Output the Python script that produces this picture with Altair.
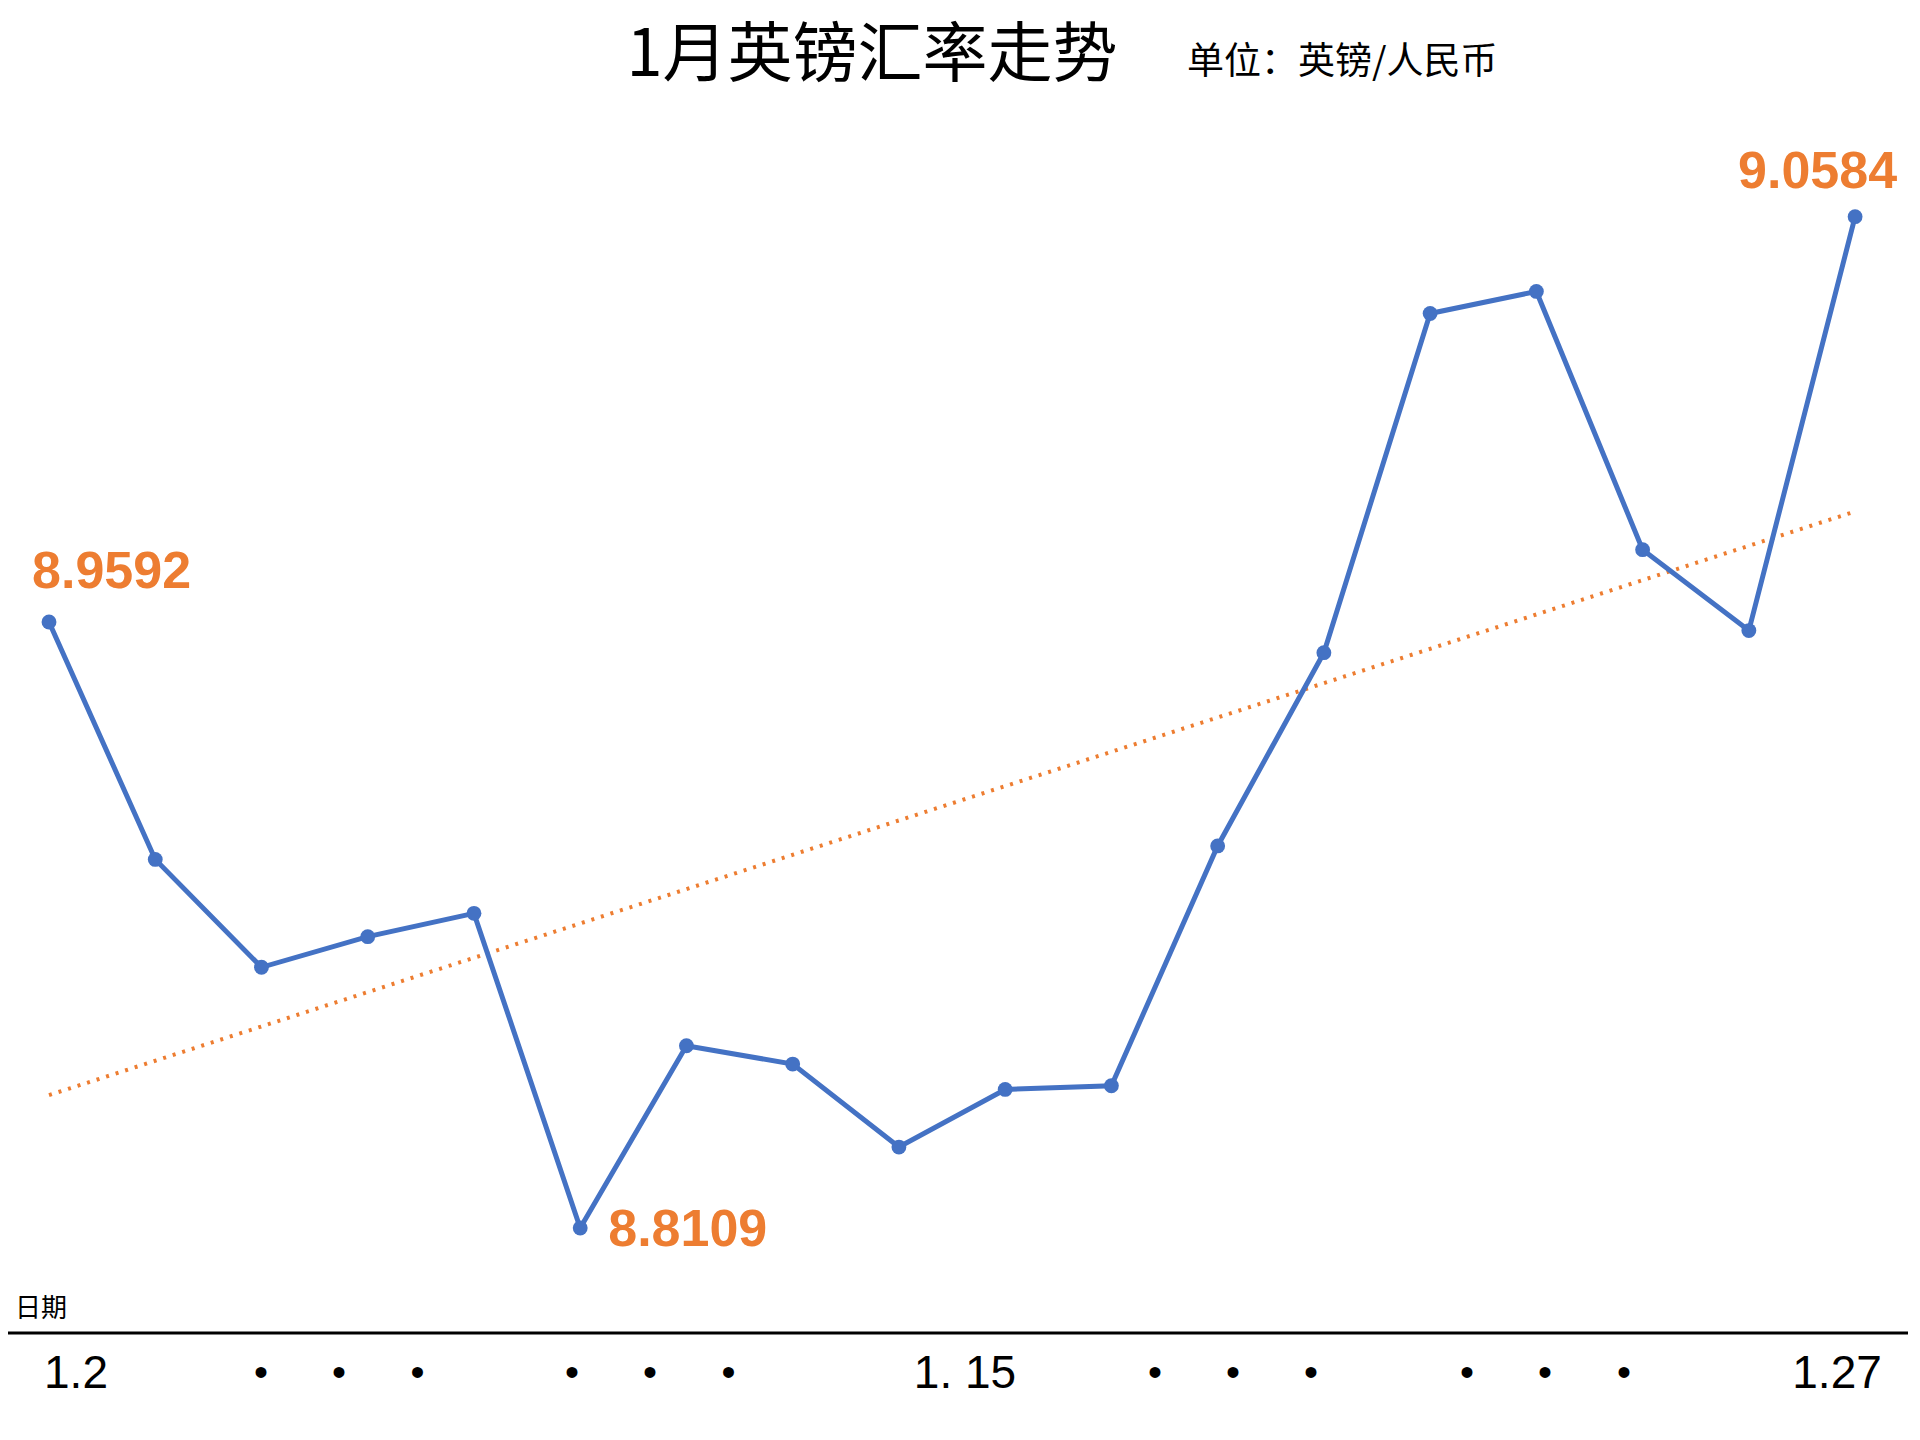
import altair as alt
import pandas as pd

# ---- data ----
rates = [8.9592, 8.9011, 8.8747, 8.8822, 8.8879, 8.8109, 8.8555, 8.8510, 8.8307,
         8.8448, 8.8457, 8.9044, 8.9517, 9.0347, 9.0401, 8.9769, 8.9571, 9.0584]
day_index = list(range(len(rates)))

tick_labels = ["1.2", "•", "•", "•", "•", "•", "•", "1. 15",
               "•", "•", "•", "•", "•", "•", "1.27"]
tick_slots = [0.254, 1.995, 2.730, 3.468, 4.923, 5.657, 6.396, 8.622,
              10.410, 11.145, 11.879, 13.347, 14.081, 14.825, 16.830]

title_text = "1月英镑汇率走势"
unit_text = "单位：英镑/人民币"
x_axis_name = "日期"

first_idx, min_idx, last_idx = 0, 5, 17

BLUE = "#4472C4"
ORANGE = "#ED7D31"
W, H = 1900, 1400
CJK = "Noto Sans CJK SC"
LAT = "Liberation Sans"

df = pd.DataFrame({"idx": day_index, "rate": rates})
ticks = pd.DataFrame({"slot": tick_slots, "label": tick_labels})
one = pd.DataFrame({"a": [0]})

X = alt.X("idx:Q", scale=alt.Scale(domain=[-0.386, 17.498], nice=False, zero=False), axis=None)
Y = alt.Y("rate:Q", scale=alt.Scale(domain=[8.76684, 9.10947], nice=False, zero=False), axis=None)

base = alt.Chart(df)

trend = base.transform_regression("idx", "rate").mark_line(
    color=ORANGE, strokeDash=[3, 7], strokeWidth=4
).encode(x=X, y=Y)

line = base.mark_line(color=BLUE, strokeWidth=5).encode(x=X, y=Y)
pts = base.mark_circle(size=220, color=BLUE, opacity=1).encode(x=X, y=Y)

ann_style = dict(font=LAT, fontWeight="bold", fontSize=52, color=ORANGE, baseline="middle")
ann_first = base.transform_filter(alt.datum.idx == first_idx).mark_text(
    align="left", dx=-17, dy=-50, **ann_style
).encode(x=X, y=Y, text=alt.Text("rate:Q", format=".4f"))
ann_min = base.transform_filter(alt.datum.idx == min_idx).mark_text(
    align="left", dx=28, dy=2, **ann_style
).encode(x=X, y=Y, text=alt.Text("rate:Q", format=".4f"))
ann_last = base.transform_filter(alt.datum.idx == last_idx).mark_text(
    align="right", dx=42, dy=-45, **ann_style
).encode(x=X, y=Y, text=alt.Text("rate:Q", format=".4f"))

axis_line = alt.Chart(one).mark_rule(color="black", strokeWidth=3).encode(
    x=alt.value(0), x2=alt.value(W), y=alt.value(1325)
)

XT = alt.X("slot:Q", scale=alt.Scale(domain=[-0.386, 17.498], nice=False, zero=False), axis=None)
tick_nums = alt.Chart(ticks).transform_filter(alt.datum.label != "•").mark_text(
    font=LAT, fontSize=46, color="black", align="center", baseline="middle"
).encode(x=XT, y=alt.value(1366), text="label:N")
tick_dots = alt.Chart(ticks).transform_filter(alt.datum.label == "•").mark_text(
    font=LAT, fontSize=40, color="black", align="center", baseline="middle"
).encode(x=XT, y=alt.value(1366), text="label:N")

title = alt.Chart(one).mark_text(
    font=CJK, fontSize=65, color="black", align="center", baseline="middle"
).encode(x=alt.value(864), y=alt.value(48), text=alt.value(title_text))
unit = alt.Chart(one).mark_text(
    font=CJK, fontSize=37, color="black", align="left", baseline="middle"
).encode(x=alt.value(1179), y=alt.value(55), text=alt.value(unit_text))
xname = alt.Chart(one).mark_text(
    font=CJK, fontSize=26, color="black", align="left", baseline="middle"
).encode(x=alt.value(7), y=alt.value(1301), text=alt.value(x_axis_name))

chart = alt.layer(
    trend, line, pts, ann_first, ann_min, ann_last,
    axis_line, tick_nums, tick_dots, title, unit, xname
).properties(
    width=W, height=H,
    autosize=alt.AutoSizeParams(type="none"),
    padding=0,
    background="white",
).configure_view(strokeWidth=0)

chart.save("out.html", embed_options={"renderer": "svg", "actions": False})
